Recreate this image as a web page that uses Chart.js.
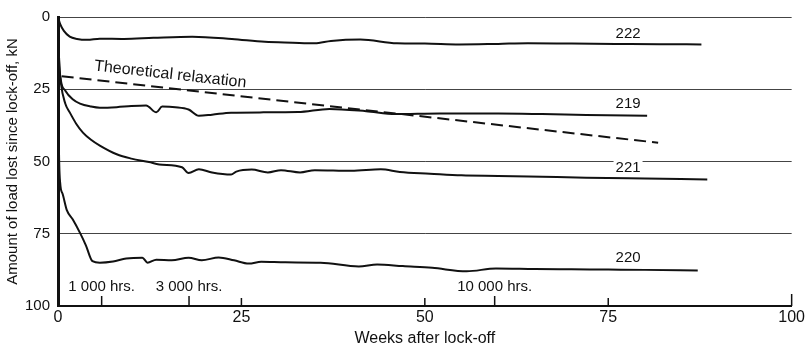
<!DOCTYPE html>
<html>
<head>
<meta charset="utf-8">
<script src="https://cdn.jsdelivr.net/npm/chart.js@4/dist/chart.umd.min.js"></script>
<style>
  body { margin: 0; background: #fff; }
  canvas { display: block; }
</style>
</head>
<body>
<canvas id="lossChart" width="807" height="350"></canvas>
<script>
// Anchor 222
const weeks222 = [0, 0.3, 0.8, 1.6, 2.6, 4, 5.7, 9, 13, 18.3, 23.7, 28.2, 32, 35, 37.2, 41.2, 46.2, 50, 54.7, 60, 64, 70, 76, 82, 87.7];
const load222  = [0, 2.5, 4.8, 6.8, 7.6, 7.9, 7.5, 7.6, 7.2, 6.8, 7.6, 8.6, 8.9, 9.1, 8.3, 7.8, 9.1, 9.2, 9.5, 9.3, 9.1, 9.2, 9.3, 9.4, 9.5];

// Anchor 219
const weeks219 = [0, 0.15, 0.4, 1, 2, 3, 4.5, 5.7, 8, 10, 12, 13.4, 14.2, 16, 17.8, 19.2, 21, 23.6, 28, 32.7, 37, 42, 46, 52, 60, 66, 72, 80.3];
const load219  = [0, 15, 22, 25.5, 28.5, 30, 31, 31.4, 31.2, 30.8, 30.6, 33, 31, 31.2, 32, 34.2, 33.8, 33.1, 33, 32.9, 31.8, 32.6, 33.6, 33.4, 33.4, 33.6, 33.9, 34.2];

// Anchor 221
const weeks221 = [0, 0.15, 0.4, 1, 1.6, 2.5, 3.4, 4.5, 5.7, 8, 10, 12.4, 13.8, 16.9, 17.8, 19.2, 21, 23.6, 24.3, 26.4, 28.6, 30.4, 33, 35, 40, 44, 46.6, 50.7, 55, 60, 66, 72, 80, 88.5];
const load221  = [0, 15, 23, 30, 33, 37, 40, 42.5, 44.5, 47.5, 49, 50.2, 51, 52, 54, 52.7, 53.8, 54.5, 53.5, 52.8, 53.8, 53, 53.8, 53, 53.2, 52.7, 53.6, 54.2, 54.8, 55, 55.3, 55.6, 55.9, 56.2];

// Anchor 220
const weeks220 = [0, 0.1, 0.3, 0.6, 1.2, 2, 3, 3.8, 4.7, 5.7, 7.5, 9.3, 11.5, 12.2, 13.4, 15.5, 17.8, 19.6, 21.9, 24, 26, 27.7, 31, 35.8, 41, 43.5, 47, 51, 55.7, 59.7, 65, 70, 75, 80, 87.2];
const load220  = [0, 40, 57.5, 61, 66.8, 70, 74.7, 79, 84.5, 85, 84.6, 83.6, 83.3, 85, 84, 84.2, 83.3, 84.2, 83.2, 84.2, 85.3, 84.7, 84.9, 85, 86.3, 85.6, 86.2, 86.8, 88, 87, 87.2, 87.3, 87.4, 87.5, 87.7];

// Theoretical relaxation (straight dashed line)
const weeksTheory = [0.5, 81.8];
const loadTheory  = [20.5, 43.5];

// Axis ticks
const yTicks = [0, 25, 50, 75, 100];
const xTicks = [0, 25, 50, 75, 100];
const hourWeeks  = [5.95, 17.86, 59.52];
const hourLabels = ['1 000 hrs.', '3 000 hrs.', '10 000 hrs.'];

// Curve labels
const seriesNames = ['222', '219', '221', '220'];
const labelWeek   = 77.7;
const labelLoads  = [5.8, 30.1, 52.1, 83.2];
const theoryText  = 'Theoretical relaxation';
const theoryLabelAt = [15.3, 19.9];

function zip(xs, ys) {
    return xs.map((x, i) => ({ x: x, y: ys[i] }));
}

function lineSet(label, xs, ys, dash) {
    return {
        label: label,
        data: zip(xs, ys),
        borderColor: '#111',
        borderWidth: 2,
        borderDash: dash || [],
        pointRadius: 0,
        cubicInterpolationMode: 'monotone',
        fill: false
    };
}

const FONT = '"Liberation Sans", Arial, sans-serif';

// draws the inward ticks, hour marks and the text labels on the plot
const annotations = {
    id: 'annotations',
    afterDatasetsDraw(chart) {
        const ctx = chart.ctx;
        const xs = chart.scales.x;
        const ys = chart.scales.y;
        const bottom = ys.getPixelForValue(100);
        ctx.save();
        ctx.strokeStyle = '#111';
        ctx.fillStyle = '#111';
        ctx.lineWidth = 1.5;

        // week ticks pointing up
        xTicks.slice(1).forEach(w => {
            const px = xs.getPixelForValue(w);
            ctx.beginPath();
            ctx.moveTo(px, bottom);
            ctx.lineTo(px, bottom - (w === 100 ? 12 : 8));
            ctx.stroke();
        });

        // hour marks
        ctx.font = '15px ' + FONT;
        ctx.textAlign = 'center';
        ctx.textBaseline = 'middle';
        hourWeeks.forEach((w, i) => {
            const px = xs.getPixelForValue(w);
            ctx.beginPath();
            ctx.moveTo(px, bottom);
            ctx.lineTo(px, bottom - 10);
            ctx.stroke();
            ctx.fillText(hourLabels[i], px, bottom - 19);
        });

        // series labels
        seriesNames.forEach((name, i) => {
            const px = xs.getPixelForValue(labelWeek);
            const py = ys.getPixelForValue(labelLoads[i]);
            const w = ctx.measureText(name).width;
            ctx.fillStyle = '#fff';
            ctx.fillRect(px - w / 2 - 2, py - 8, w + 4, 16);
            ctx.fillStyle = '#111';
            ctx.fillText(name, px, py);
        });

        // theoretical relaxation label, parallel to the dashed line
        const x1 = xs.getPixelForValue(weeksTheory[0]);
        const y1 = ys.getPixelForValue(loadTheory[0]);
        const x2 = xs.getPixelForValue(weeksTheory[1]);
        const y2 = ys.getPixelForValue(loadTheory[1]);
        const angle = Math.atan2(y2 - y1, x2 - x1);
        ctx.translate(xs.getPixelForValue(theoryLabelAt[0]), ys.getPixelForValue(theoryLabelAt[1]));
        ctx.rotate(angle);
        ctx.font = '16px ' + FONT;
        ctx.fillText(theoryText, 0, 0);
        ctx.restore();
    }
};

const ctx = document.getElementById('lossChart').getContext('2d');
new Chart(ctx, {
    type: 'line',
    data: {
        datasets: [
            lineSet('222', weeks222, load222),
            lineSet('219', weeks219, load219),
            lineSet('221', weeks221, load221),
            lineSet('220', weeks220, load220),
            lineSet('Theoretical relaxation', weeksTheory, loadTheory, [12, 6])
        ]
    },
    options: {
        responsive: false,
        animation: false,
        layout: { padding: { top: 15, right: 9, left: 0, bottom: 0 } },
        plugins: {
            legend: { display: false },
            tooltip: { enabled: false }
        },
        scales: {
            x: {
                type: 'linear',
                min: 0,
                max: 100,
                afterFit(scale) { scale.height = 44; },
                afterBuildTicks(scale) { scale.ticks = xTicks.map(v => ({ value: v })); },
                ticks: { color: '#111', font: { family: FONT, size: 16 }, padding: 2, maxRotation: 0 },
                grid: { display: false, drawTicks: false },
                border: { display: true, color: '#111', width: 2 },
                title: {
                    display: true,
                    text: 'Weeks after lock-off',
                    color: '#111',
                    font: { family: FONT, size: 16 },
                    padding: { top: 0, bottom: 2 }
                }
            },
            y: {
                reverse: true,
                min: 0,
                max: 100,
                afterFit(scale) { scale.width = 58; },
                afterBuildTicks(scale) { scale.ticks = yTicks.map(v => ({ value: v })); },
                ticks: { color: '#111', font: { family: FONT, size: 15 }, padding: 8 },
                grid: { color: '#444', lineWidth: 1, drawTicks: false },
                border: { display: true, color: '#111', width: 3 },
                title: {
                    display: true,
                    text: 'Amount of load lost since lock-off, kN',
                    color: '#111',
                    font: { family: FONT, size: 15 },
                    padding: { top: 4, bottom: 0 }
                }
            }
        }
    },
    plugins: [annotations]
});
</script>
</body>
</html>
